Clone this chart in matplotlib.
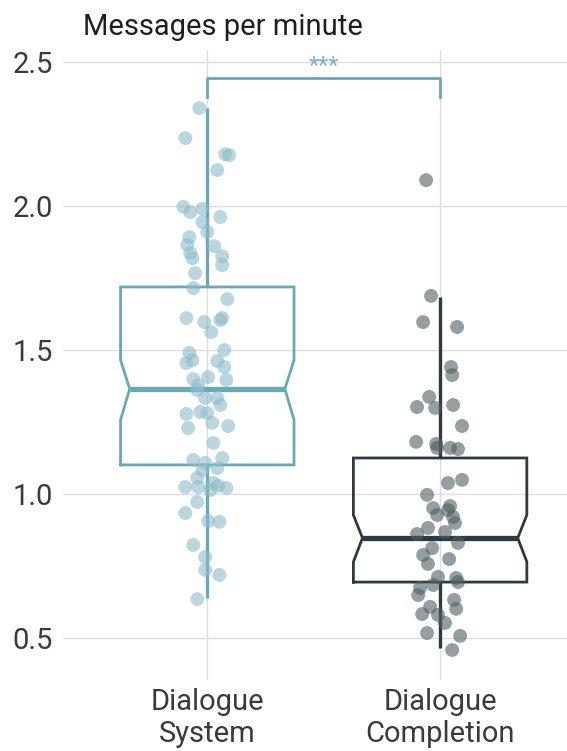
import matplotlib
matplotlib.use("Agg")
import matplotlib.pyplot as plt

plt.rcParams['font.family'] = ['Roboto', 'DejaVu Sans']

categories = ["Dialogue\nSystem", "Dialogue\nCompletion"]

# box stats: q1, median, q3, whisker low/high, notch low/high
q1 = [1.101, 0.694]
med = [1.365, 0.847]
q3 = [1.719, 1.125]
whislo = [0.639, 0.465]
whishi = [2.34, 1.684]
cilo = [1.257, 0.764]
cihi = [1.465, 0.927]

# jittered points (horizontal offset, value)
sys_dx = [-0.034, -0.094, 0.077, 0.094, 0.043, -0.103, -0.073, -0.021, 0.056, -0.021,
          0.0, -0.077, -0.086, 0.030, -0.073, 0.064, -0.064, 0.064, -0.052, -0.060,
          0.086, -0.090, -0.013, 0.056, 0.064, 0.017, -0.077, -0.064, -0.090, 0.073,
          0.043, 0.073, -0.060, 0.004, 0.082, -0.039, -0.043, -0.009, 0.043, 0.056,
          -0.030, -0.090, 0.0, 0.021, 0.090, -0.082, 0.026, 0.064, -0.060, -0.009,
          -0.021, 0.043, -0.043, -0.094, -0.039, 0.026, 0.047, 0.082, 0.013, -0.043,
          -0.094, 0.004, 0.052, -0.060, -0.009, -0.009, 0.052, -0.043]
sys_y = [2.34, 2.236, 2.18, 2.177, 2.125, 1.997, 1.979, 1.990, 1.962, 1.944,
         1.910, 1.892, 1.865, 1.861, 1.837, 1.826, 1.819, 1.795, 1.767, 1.715,
         1.677, 1.611, 1.597, 1.604, 1.611, 1.562, 1.490, 1.465, 1.455, 1.500,
         1.462, 1.441, 1.399, 1.406, 1.396, 1.378, 1.361, 1.333, 1.333, 1.309,
         1.285, 1.278, 1.281, 1.247, 1.236, 1.229, 1.177, 1.125, 1.118, 1.108,
         1.083, 1.090, 1.056, 1.024, 1.024, 1.038, 1.028, 1.021, 1.014, 0.972,
         0.934, 0.906, 0.903, 0.823, 0.781, 0.736, 0.719, 0.635]

comp_dx = [-0.060, -0.039, -0.073, 0.073, 0.047, 0.052, -0.047, -0.099, -0.021, 0.056,
           0.094, -0.103, -0.017, -0.013, 0.043, 0.077, 0.034, 0.094, -0.056, -0.030,
           0.043, 0.034, -0.013, 0.056, 0.064, -0.052, 0.021, -0.099, 0.077, -0.034,
           -0.073, -0.052, 0.039, -0.009, 0.069, 0.077, -0.030, -0.086, -0.094, 0.060,
           0.069, -0.043, -0.077, -0.009, 0.021, -0.056, 0.086, 0.052]
comp_y = [2.090, 1.688, 1.597, 1.580, 1.441, 1.413, 1.337, 1.302, 1.299, 1.309,
          1.236, 1.181, 1.174, 1.160, 1.160, 1.156, 1.038, 1.049, 0.997, 0.951,
          0.958, 0.944, 0.927, 0.920, 0.899, 0.882, 0.868, 0.861, 0.830, 0.812,
          0.788, 0.757, 0.774, 0.712, 0.708, 0.694, 0.684, 0.674, 0.649, 0.632,
          0.601, 0.608, 0.583, 0.580, 0.552, 0.517, 0.507, 0.458]

box_colors = ["#6aa8b5", "#2c3b41"]
point_colors = ["#8dbccb", "#4f5f63"]
point_alpha = [0.6, 0.6]

fig = plt.figure(figsize=(5.67, 7.51), dpi=100)
ax = fig.add_axes([0.111, 0.0946, 0.889, 0.8388])

ax.set_xlim(-0.62, 1.545)
ax.set_ylim(0.354, 2.542)

width = 0.745
notch_frac = 0.895

for i in range(2):
    c = box_colors[i]
    bl, br = i - width / 2, i + width / 2
    nl, nr = i - width / 2 * notch_frac, i + width / 2 * notch_frac
    xs = [bl, br, br, nr, br, br, bl, bl, nl, bl, bl]
    ys = [q1[i], q1[i], cilo[i], med[i], cihi[i], q3[i], q3[i], cihi[i], med[i], cilo[i], q1[i]]
    ax.plot(xs, ys, color=c, lw=2.0, solid_joinstyle='miter', zorder=3)
    ax.plot([nl, nr], [med[i], med[i]], color=c, lw=3.8, solid_capstyle='butt', zorder=3)
    ax.plot([i, i], [q3[i], whishi[i]], color=c, lw=2.4, solid_capstyle='butt', zorder=3)
    ax.plot([i, i], [q1[i], whislo[i]], color=c, lw=2.4, solid_capstyle='butt', zorder=3)

ax.scatter([0 + d for d in sys_dx], sys_y, s=100, color=point_colors[0],
           alpha=point_alpha[0], edgecolors='none', zorder=4)
ax.scatter([1 + d for d in comp_dx], comp_y, s=100, color=point_colors[1],
           alpha=point_alpha[1], edgecolors='none', zorder=4)

# significance bracket
ax.plot([0, 0, 1, 1], [2.378, 2.444, 2.444, 2.378], color=box_colors[0], lw=2.0, zorder=3)
ax.text(0.5, 2.488, "***", color="#7fb3c1", fontsize=17, ha='center', va='center')

ax.set_yticks([0.5, 1.0, 1.5, 2.0, 2.5])
ax.set_yticklabels(["0.5", "1.0", "1.5", "2.0", "2.5"])
ax.set_xticks([0, 1])
ax.set_xticklabels(categories, linespacing=1.15)
ax.tick_params(axis='both', length=0, labelsize=21, labelcolor="#3a3a3a")
ax.tick_params(axis='y', pad=7)
ax.tick_params(axis='x', pad=6)

ax.grid(True, color="#dedede", lw=1.0)
ax.set_axisbelow(True)
for s in ax.spines.values():
    s.set_visible(False)

fig.text(83 / 567, 1 - 35 / 751, "Messages per minute", fontsize=21, color="#1e1e1e",
         ha='left', va='baseline')

fig.savefig("out.png", dpi=100)
